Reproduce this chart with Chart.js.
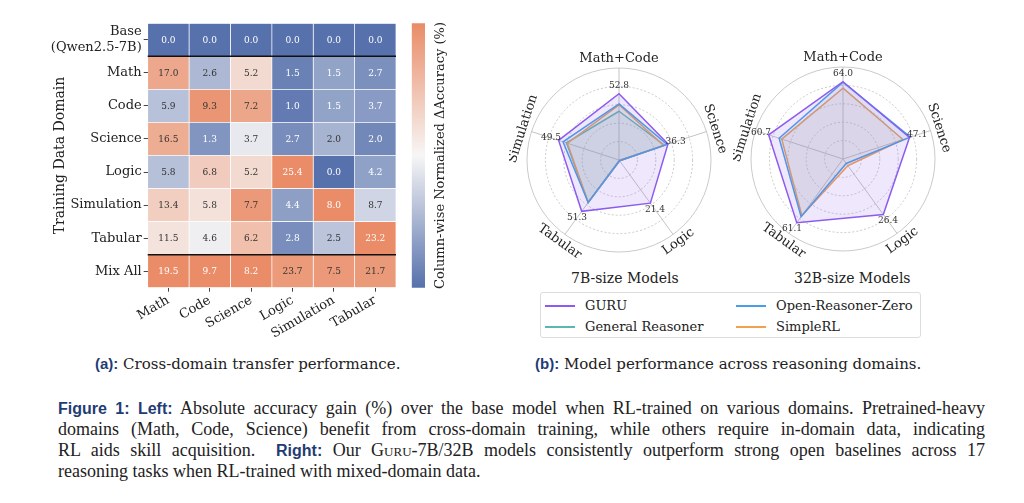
<!DOCTYPE html>
<html>
<head>
<meta charset="utf-8">
<script src="https://cdn.jsdelivr.net/npm/chart.js@4.4.1/dist/chart.umd.min.js"></script>
<style>
  body { margin: 0; background: #fff; }
  #page { position: relative; width: 1024px; height: 503px; overflow: hidden; background: #fff; color: #222; }
  canvas { position: absolute; }
  .txt { position: absolute; white-space: nowrap; font-family: "DejaVu Serif", serif; color: #222; }
  .lab { font-family: "Liberation Sans", Arial, sans-serif; font-weight: bold; color: #1f3c74; }
  #legend { position: absolute; left: 540px; top: 292px; width: 381px; height: 46px; border: 1px solid #ddd; border-radius: 3px; box-sizing: border-box; }
  .item { position: absolute; font: 13px "DejaVu Serif", serif; color: #222; line-height: 16px; }
  .item i { position: absolute; left: -40px; top: 7px; width: 30px; height: 2px; }
  .cap { position: absolute; left: 58px; width: 927px; font: 18px "Liberation Serif", serif; color: #222; line-height: 21px; text-align: justify; text-align-last: justify; }
  .cap .lab { font-size: 16px; }
</style>
</head>
<body>
<div id="page">
  <canvas id="heat" width="355" height="340" style="left:48px;top:8px"></canvas>
  <canvas id="cbar" width="47" height="340" style="left:405px;top:8px"></canvas>
  <canvas id="radar7" width="220" height="220" style="left:509px;top:50px"></canvas>
  <canvas id="radar32" width="220" height="220" style="left:733px;top:49px"></canvas>

  <div class="txt" style="left:571px;top:270px;font-size:14px;">7B-size Models</div>
  <div class="txt" style="left:794px;top:270px;font-size:14px;">32B-size Models</div>
  <div id="legend"></div>

  <div class="txt" style="left:95px;top:355px;font-size:15px;"><span class="lab">(a):</span> Cross-domain transfer performance.</div>
  <div class="txt" style="left:535px;top:355px;font-size:15px;"><span class="lab">(b):</span> Model performance across reasoning domains.</div>

  <div class="cap" style="top:398px"><span class="lab">Figure 1: Left:</span> Absolute accuracy gain (%) over the base model when RL-trained on various domains. Pretrained-heavy</div>
  <div class="cap" style="top:419px">domains (Math, Code, Science) benefit from cross-domain training, while others require in-domain data, indicating</div>
  <div class="cap" style="top:440px">RL aids skill acquisition.&nbsp; <span class="lab">Right:</span> Our <span style="font-variant:small-caps">Guru</span>-7B/32B models consistently outperform strong open baselines across 17</div>
  <div class="cap" style="top:461px;text-align-last:left">reasoning tasks when RL-trained with mixed-domain data.</div>
</div>

<script>
// ---- heatmap data: absolute accuracy gain (%) ----
const rowLabels = [['Base', '(Qwen2.5-7B)'], 'Math', 'Code', 'Science', 'Logic', 'Simulation', 'Tabular', 'Mix All'];
const colLabels = ['Math', 'Code', 'Science', 'Logic', 'Simulation', 'Tabular'];

const baseRow = [0.0, 0.0, 0.0, 0.0, 0.0, 0.0];
const mathRow = [17.0, 2.6, 5.2, 1.5, 1.5, 2.7];
const codeRow = [5.9, 9.3, 7.2, 1.0, 1.5, 3.7];
const scienceRow = [16.5, 1.3, 3.7, 2.7, 2.0, 2.0];
const logicRow = [5.8, 6.8, 5.2, 25.4, 0.0, 4.2];
const simulationRow = [13.4, 5.8, 7.7, 4.4, 8.0, 8.7];
const tabularRow = [11.5, 4.6, 6.2, 2.8, 2.5, 23.2];
const mixAllRow = [19.5, 9.7, 8.2, 23.7, 7.5, 21.7];
const gainRows = [baseRow, mathRow, codeRow, scienceRow, logicRow, simulationRow, tabularRow, mixAllRow];

// ---- radar data (radial position on a 0-100 grid) ----
const radarAxes = ['Math+Code', 'Science', 'Logic', 'Tabular', 'Simulation'];

const guru7 = [72, 56, 58, 69, 69];
const orz7 = [61, 55, 1, 57, 64];
const genReasoner7 = [53, 52, 1, 57, 60];
const simpleRL7 = [60, 51, 1, 57, 59];
const guru7Labels = ['52.8', '36.3', '21.4', '51.3', '49.5'];

const guru32 = [84, 76, 74.5, 85.5, 85];
const orz32 = [83.5, 77, 6, 77.5, 73];
const simpleRL32 = [77, 68.5, 9, 76, 70];
const guru32Labels = ['64.0', '47.1', '26.4', '61.1', '60.7'];

const seriesNames = ['GURU', 'General Reasoner', 'Open-Reasoner-Zero', 'SimpleRL'];
const seriesColors = ['#8c5cf0', '#5bb8b0', '#4a9ee6', '#f0a24e'];

Chart.defaults.font.family = '"DejaVu Serif", serif';
Chart.defaults.color = '#222';

// column-wise normalized colour map (blue - white - orange)
const lowC = [86, 113, 172], midC = [247, 246, 246], highC = [233, 140, 103];
function cellColor(t) {
  const a = t < 0.5 ? lowC : midC;
  const b = t < 0.5 ? midC : highC;
  const f = t < 0.5 ? t / 0.5 : (t - 0.5) / 0.5;
  const c = a.map((v, k) => Math.round(v + (b[k] - v) * f));
  return `rgb(${c[0]},${c[1]},${c[2]})`;
}
const colMax = colLabels.map((c, j) => Math.max(...gainRows.map(r => r[j])));

// Write values into cells and draw the two black separators
const cellText = {
  id: 'cellText',
  afterDatasetsDraw(chart) {
    const ctx = chart.ctx;
    ctx.save();
    ctx.font = '9px "DejaVu Serif"';
    ctx.textAlign = 'center';
    ctx.textBaseline = 'middle';
    chart.data.datasets.forEach((ds, j) => {
      chart.getDatasetMeta(j).data.forEach((bar, i) => {
        const v = gainRows[i][j];
        const t = v / colMax[j];
        ctx.fillStyle = (t < 0.2 || t > 0.97) ? '#fff' : '#333';
        ctx.fillText(v.toFixed(1), (bar.x + bar.base) / 2, bar.y + 0.5);
      });
    });
    const y = chart.scales.y;
    const {left, right} = chart.chartArea;
    ctx.strokeStyle = '#111';
    ctx.lineWidth = 1.5;
    [0, rowLabels.length - 2].forEach(k => {
      const py = (y.getPixelForValue(k) + y.getPixelForValue(k + 1)) / 2;
      ctx.beginPath();
      ctx.moveTo(left, py);
      ctx.lineTo(right, py);
      ctx.stroke();
    });
    ctx.restore();
  }
};

new Chart(document.getElementById('heat'), {
  type: 'bar',
  data: {
    labels: rowLabels,
    datasets: colLabels.map((c, j) => ({
      label: c,
      data: gainRows.map(() => 1),
      backgroundColor: gainRows.map(r => cellColor(r[j] / colMax[j])),
      borderColor: '#fff',
      borderWidth: 0.7,
      borderSkipped: false,
      barPercentage: 1,
      categoryPercentage: 1
    }))
  },
  options: {
    indexAxis: 'y',
    responsive: false,
    animation: false,
    layout: { padding: { top: 15.3, right: 7, left: 0, bottom: 0 } },
    plugins: { legend: { display: false }, tooltip: { enabled: false } },
    scales: {
      x: {
        stacked: true,
        min: 0,
        max: colLabels.length,
        afterBuildTicks: s => { s.ticks = colLabels.map((c, j) => ({ value: j + 0.5 })); },
        ticks: {
          autoSkip: false,
          callback: (v, i) => colLabels[i],
          minRotation: 30,
          maxRotation: 30,
          padding: 1,
          font: { size: 13 },
          color: '#222'
        },
        grid: { display: true, drawOnChartArea: false, tickLength: 4, color: '#444' },
        border: { display: false },
        afterFit: s => { s.height = 60.3; }
      },
      y: {
        stacked: true,
        grid: { display: true, drawOnChartArea: false, offset: false, tickLength: 4, color: '#444' },
        border: { display: false },
        ticks: { autoSkip: false, font: { size: 13 }, color: '#222', padding: 2 },
        title: { display: true, text: 'Training Data Domain', font: { size: 14 }, color: '#222' },
        afterFit: s => { s.width = 99.7; }
      }
    }
  },
  plugins: [cellText]
});

// colour bar label, reading bottom to top on the right of the bar
const cbarTitle = {
  id: 'cbarTitle',
  afterDraw(chart) {
    const s = chart.scales.y;
    const ctx = chart.ctx;
    ctx.save();
    ctx.font = '13px "DejaVu Serif"';
    ctx.fillStyle = '#222';
    ctx.textAlign = 'center';
    ctx.textBaseline = 'middle';
    ctx.translate(s.left + 16, (s.top + s.bottom) / 2);
    ctx.rotate(-Math.PI / 2);
    ctx.fillText('Column-wise Normalized ΔAccuracy (%)', 0, 0);
    ctx.restore();
  }
};

new Chart(document.getElementById('cbar'), {
  type: 'bar',
  data: {
    labels: [''],
    datasets: [{
      data: [1],
      borderWidth: 0,
      barPercentage: 1,
      categoryPercentage: 1,
      backgroundColor: c => {
        const a = c.chart.chartArea;
        if (!a) return cellColor(0);
        const g = c.chart.ctx.createLinearGradient(0, a.bottom, 0, a.top);
        for (let k = 0; k <= 20; k++) g.addColorStop(k / 20, cellColor(k / 20));
        return g;
      }
    }]
  },
  options: {
    responsive: false,
    animation: false,
    layout: { padding: { left: 6.7, top: 15.3, bottom: 60.3, right: 0 } },
    plugins: { legend: { display: false }, tooltip: { enabled: false } },
    scales: {
      x: { display: false },
      y: {
        position: 'right',
        min: 0,
        max: 1,
        ticks: { display: false },
        grid: { display: false },
        border: { display: false },
        afterFit: s => { s.width = 27; }
      }
    }
  },
  plugins: [cbarTitle]
});

// rotated axis names + GURU value annotations
function radarText(valueLabels) {
  return {
    id: 'radarText',
    afterDraw(chart) {
      const r = chart.scales.r;
      const ctx = chart.ctx;
      ctx.save();
      ctx.textAlign = 'center';
      ctx.textBaseline = 'middle';
      ctx.fillStyle = '#222';
      ctx.font = '13px "DejaVu Serif"';
      radarAxes.forEach((name, i) => {
        const p = r.getPointPosition(i, r.drawingArea + 9);
        const deg = i * 360 / radarAxes.length;
        const rot = (deg > 90 && deg < 270) ? deg - 180 : deg;
        ctx.save();
        ctx.translate(p.x, p.y);
        ctx.rotate(rot * Math.PI / 180);
        ctx.fillText(name, 0, 0);
        ctx.restore();
      });
      ctx.font = '9px "DejaVu Serif"';
      ctx.fillStyle = '#333';
      const guru = chart.data.datasets[0].data;
      valueLabels.forEach((lab, i) => {
        const p = r.getPointPosition(i, r.getDistanceFromCenterForValue(guru[i]) + 8);
        ctx.fillText(lab, p.x, p.y);
      });
      ctx.restore();
    }
  };
}

function alpha(hex, a) {
  const n = parseInt(hex.slice(1), 16);
  return `rgba(${n >> 16},${(n >> 8) & 255},${n & 255},${a})`;
}

function makeRadar(id, series, valueLabels) {
  return new Chart(document.getElementById(id), {
    type: 'radar',
    data: {
      labels: radarAxes,
      datasets: series.map(s => ({
        label: s.name,
        data: s.data,
        borderColor: s.color,
        backgroundColor: alpha(s.color, s.name === 'GURU' ? 0.14 : 0.12),
        fill: true,
        borderWidth: 1.5
      }))
    },
    options: {
      responsive: false,
      animation: false,
      layout: { padding: 18 },
      plugins: { legend: { display: false }, tooltip: { enabled: false } },
      elements: { point: { radius: 0 }, line: { tension: 0 } },
      scales: {
        r: {
          min: 0,
          max: 100,
          ticks: { display: false, stepSize: 20 },
          pointLabels: { display: false },
          grid: { circular: true, color: '#bdbdbd', lineWidth: 0.8 },
          border: { dash: c => (c.tick && c.tick.value === 100) ? [] : [2, 2] },
          angleLines: { color: '#b5b5b5', lineWidth: 0.8 }
        }
      }
    },
    plugins: [radarText(valueLabels)]
  });
}

makeRadar('radar7', [
  { name: seriesNames[0], data: guru7, color: seriesColors[0] },
  { name: seriesNames[2], data: orz7, color: seriesColors[2] },
  { name: seriesNames[3], data: simpleRL7, color: seriesColors[3] },
  { name: seriesNames[1], data: genReasoner7, color: seriesColors[1] }
], guru7Labels);

makeRadar('radar32', [
  { name: seriesNames[0], data: guru32, color: seriesColors[0] },
  { name: seriesNames[2], data: orz32, color: seriesColors[2] },
  { name: seriesNames[3], data: simpleRL32, color: seriesColors[3] }
], guru32Labels);

// shared legend, two columns
const legend = document.getElementById('legend');
const spots = [[44, 5], [44, 26], [235, 5], [235, 26]];
seriesNames.forEach((name, k) => {
  const d = document.createElement('div');
  d.className = 'item';
  d.style.left = spots[k][0] + 'px';
  d.style.top = spots[k][1] + 'px';
  d.innerHTML = `<i style="background:${seriesColors[k]}"></i>${name}`;
  legend.appendChild(d);
});
</script>
</body>
</html>
